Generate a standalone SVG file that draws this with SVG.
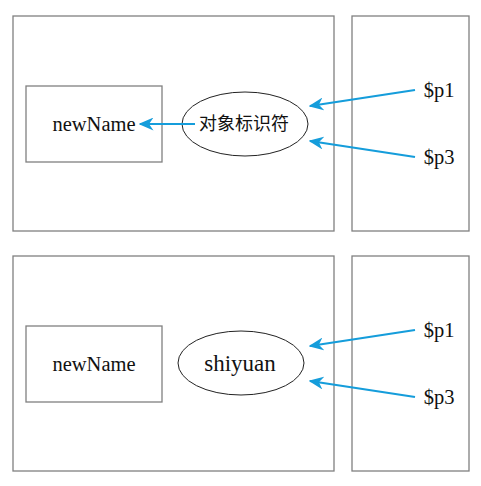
<svg xmlns="http://www.w3.org/2000/svg" width="481" height="486" viewBox="0 0 481 486">
<style>
.box{fill:none;stroke:#808080;stroke-width:1.3}
.ell{fill:#fff;stroke:#222;stroke-width:1}
.t{font-family:"Liberation Serif","Noto Sans CJK SC",serif;font-size:20.5px;fill:#111;text-anchor:middle}
.cjk{font-size:18px}
.big{font-size:23px}
.arr{stroke:#159ddb;stroke-width:2.2;fill:none;marker-end:url(#ah)}
</style>
<defs>
<marker id="ah" viewBox="0 0 10 10" refX="9" refY="5" markerWidth="15" markerHeight="13" markerUnits="userSpaceOnUse" orient="auto" preserveAspectRatio="none">
<path d="M0,0 L10,5 L0,10 L3,5 Z" fill="#159ddb"/>
</marker>
</defs>
<g id="scope1"><rect class="box" x="13" y="16" width="321" height="215"/></g>
<g id="stack1"><rect class="box" x="352" y="16" width="117" height="215"/></g>
<g id="var1"><rect class="box" x="26" y="86" width="136" height="76"/><text class="t" x="94" y="131">newName</text></g>
<g id="obj1"><ellipse class="ell" cx="245" cy="124" rx="63" ry="32"/><text class="t cjk" x="244" y="130">对象标识符</text></g>
<g id="p1a"><text class="t" x="439" y="97">$p1</text></g>
<g id="p3a"><text class="t" x="439" y="164">$p3</text></g>
<g id="scope2"><rect class="box" x="13" y="256" width="321" height="215"/></g>
<g id="stack2"><rect class="box" x="352" y="256" width="117" height="215"/></g>
<g id="var2"><rect class="box" x="26" y="326" width="136" height="76"/><text class="t" x="94" y="371">newName</text></g>
<g id="obj2"><ellipse class="ell" cx="241" cy="363" rx="63" ry="32"/><text class="t big" x="240" y="371">shiyuan</text></g>
<g id="p1b"><text class="t" x="439" y="337">$p1</text></g>
<g id="p3b"><text class="t" x="439" y="404">$p3</text></g>
<g id="connectors">
<line class="arr" x1="195" y1="124" x2="140" y2="124"/>
<line class="arr" x1="415" y1="90" x2="310" y2="106"/>
<line class="arr" x1="415" y1="157" x2="310" y2="141"/>
<line class="arr" x1="415" y1="330" x2="310" y2="346"/>
<line class="arr" x1="415" y1="397" x2="310" y2="381"/>
</g>
</svg>
